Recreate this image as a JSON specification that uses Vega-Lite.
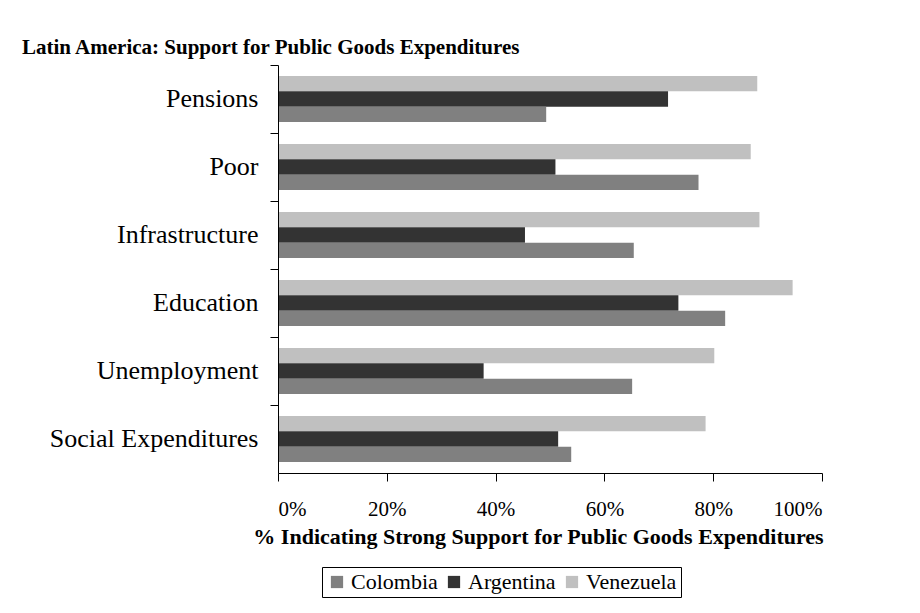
{
  "$schema": "https://vega.github.io/schema/vega-lite/v6.json",
  "autosize": "none",
  "width": 544,
  "height": 408,
  "padding": {"left": 278, "top": 65, "right": 98, "bottom": 140},
  "background": "white",
  "title": {
    "text": "Latin America: Support for Public Goods Expenditures",
    "anchor": "start",
    "frame": "group",
    "dx": -256,
    "offset": 7,
    "font": "Liberation Serif",
    "fontSize": 21,
    "fontWeight": "bold",
    "color": "black"
  },
  "data": {
    "values": [
      {"category": "Pensions", "country": "Venezuela", "value": 0.881},
      {"category": "Pensions", "country": "Argentina", "value": 0.717},
      {"category": "Pensions", "country": "Colombia", "value": 0.493},
      {"category": "Poor", "country": "Venezuela", "value": 0.869},
      {"category": "Poor", "country": "Argentina", "value": 0.510},
      {"category": "Poor", "country": "Colombia", "value": 0.773},
      {"category": "Infrastructure", "country": "Venezuela", "value": 0.885},
      {"category": "Infrastructure", "country": "Argentina", "value": 0.454},
      {"category": "Infrastructure", "country": "Colombia", "value": 0.654},
      {"category": "Education", "country": "Venezuela", "value": 0.946},
      {"category": "Education", "country": "Argentina", "value": 0.736},
      {"category": "Education", "country": "Colombia", "value": 0.822},
      {"category": "Unemployment", "country": "Venezuela", "value": 0.802},
      {"category": "Unemployment", "country": "Argentina", "value": 0.378},
      {"category": "Unemployment", "country": "Colombia", "value": 0.651},
      {"category": "Social Expenditures", "country": "Venezuela", "value": 0.786},
      {"category": "Social Expenditures", "country": "Argentina", "value": 0.515},
      {"category": "Social Expenditures", "country": "Colombia", "value": 0.539}
    ]
  },
  "mark": {"type": "bar", "cornerRadius": 0},
  "encoding": {
    "y": {
      "field": "category",
      "type": "nominal",
      "sort": ["Pensions", "Poor", "Infrastructure", "Education", "Unemployment", "Social Expenditures"],
      "scale": {"paddingInner": 0, "paddingOuter": 0},
      "axis": {
        "title": null,
        "bandPosition": 0,
        "labelOffset": 0,
        "tickSize": 8,
        "tickColor": "black",
        "domainColor": "black",
        "labelPadding": 12,
        "labelFont": "Liberation Serif",
        "labelFontSize": 26,
        "labelColor": "black",
        "labelLimit": 300,
        "zindex": 1
      }
    },
    "yOffset": {
      "field": "country",
      "type": "nominal",
      "sort": ["Venezuela", "Argentina", "Colombia"],
      "scale": {"paddingInner": 0, "paddingOuter": 0.72}
    },
    "x": {
      "field": "value",
      "type": "quantitative",
      "scale": {"domain": [0, 1], "nice": false},
      "axis": {
        "title": "% Indicating Strong Support for Public Goods Expenditures",
        "format": ".0%",
        "values": [0, 0.2, 0.4, 0.6, 0.8, 1],
        "grid": false,
        "tickSize": 8,
        "tickColor": "black",
        "domainColor": "black",
        "labelPadding": 17,
        "labelFont": "Liberation Serif",
        "labelFontSize": 21,
        "labelColor": "black",
        "titleFont": "Liberation Serif",
        "titleFontSize": 22,
        "titleFontWeight": "bold",
        "titleColor": "black",
        "titlePadding": 7,
        "titleX": 260,
        "zindex": 1
      }
    },
    "color": {
      "field": "country",
      "type": "nominal",
      "scale": {"domain": ["Colombia", "Argentina", "Venezuela"], "range": ["#808080", "#333333", "#c0c0c0"]},
      "legend": {
        "title": null,
        "orient": "none",
        "direction": "horizontal",
        "legendX": 44,
        "legendY": 502,
        "strokeColor": "black",
        "padding": 4,
        "symbolType": "square",
        "symbolSize": 150,
        "symbolStrokeWidth": 0,
        "symbolOpacity": 1,
        "labelFont": "Liberation Serif",
        "labelFontSize": 22,
        "labelColor": "black",
        "columnPadding": 5,
        "labelOffset": 3
      }
    }
  },
  "config": {
    "view": {"stroke": null},
    "axis": {"domainWidth": 1, "tickWidth": 1}
  }
}
